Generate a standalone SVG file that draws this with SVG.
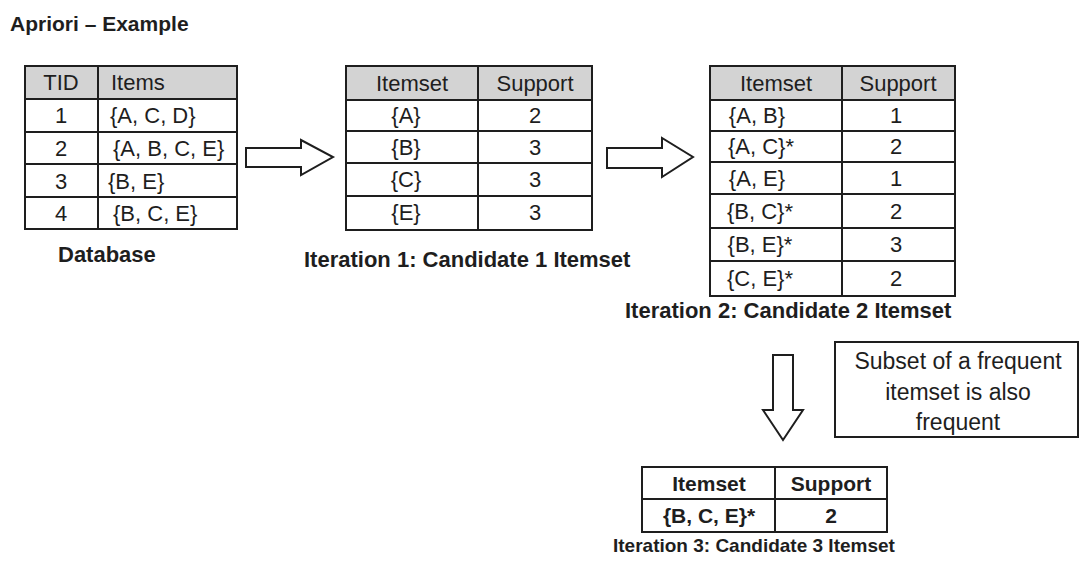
<svg xmlns="http://www.w3.org/2000/svg" width="1080" height="562" viewBox="0 0 1080 562">
<style>
text{font-family:"Liberation Sans",Arial,sans-serif;fill:#1e1e1e}
.t{font-size:22px}
.c{text-anchor:middle}
.b{font-weight:bold}
.cap{font-size:22px;font-weight:bold}
.hdr{fill:#d3d3d3;stroke:none}
.ln{stroke:#1e1e1e;stroke-width:2;fill:none}
.arr{fill:#fff;stroke:#1e1e1e;stroke-width:2;stroke-linejoin:miter}
</style>
<rect width="1080" height="562" fill="#fff"/>
<text x="10" y="31" class="b" style="font-size:21px">Apriori – Example</text>

<g id="database">
<rect class="hdr" x="25" y="66" width="212" height="33"/>
<rect class="ln" x="25" y="66" width="212" height="163"/>
<path class="ln" d="M98 66V229M25 99H237M25 132H237M25 164H237M25 197H237"/>
<text class="t c" x="61" y="90">TID</text>
<text class="t" x="111" y="90">Items</text>
<text class="t c" x="61" y="123">1</text>
<text class="t" x="110" y="123">{A, C, D}</text>
<text class="t c" x="61" y="156">2</text>
<text class="t" x="113" y="156">{A, B, C, E}</text>
<text class="t c" x="61" y="189">3</text>
<text class="t" x="108" y="189">{B, E}</text>
<text class="t c" x="61" y="221">4</text>
<text class="t" x="113" y="221">{B, C, E}</text>
<text class="cap" x="58" y="262">Database</text>
</g>

<g id="c1">
<rect class="hdr" x="346" y="66" width="246" height="34"/>
<rect class="ln" x="346" y="66" width="246" height="164"/>
<path class="ln" d="M478 66V230M346 100H592M346 131H592M346 163H592M346 196H592"/>
<text class="t c" x="412" y="91">Itemset</text>
<text class="t c" x="535" y="91">Support</text>
<text class="t c" x="406" y="123">{A}</text>
<text class="t c" x="535" y="123">2</text>
<text class="t c" x="406" y="155">{B}</text>
<text class="t c" x="535" y="155">3</text>
<text class="t c" x="406" y="187">{C}</text>
<text class="t c" x="535" y="187">3</text>
<text class="t c" x="406" y="220">{E}</text>
<text class="t c" x="535" y="220">3</text>
<text class="cap" x="304" y="267">Iteration 1: Candidate 1 Itemset</text>
</g>

<g id="c2">
<rect class="hdr" x="710" y="66" width="245" height="34"/>
<rect class="ln" x="710" y="66" width="245" height="230"/>
<path class="ln" d="M842 66V296M710 100H955M710 131H955M710 162H955M710 194H955M710 228H955M710 261H955"/>
<text class="t c" x="776" y="91">Itemset</text>
<text class="t c" x="898" y="91">Support</text>
<text class="t c" x="757" y="123">{A, B}</text>
<text class="t c" x="896" y="123">1</text>
<text class="t c" x="761" y="154">{A, C}*</text>
<text class="t c" x="896" y="154">2</text>
<text class="t c" x="757" y="186">{A, E}</text>
<text class="t c" x="896" y="186">1</text>
<text class="t c" x="760" y="219">{B, C}*</text>
<text class="t c" x="896" y="219">2</text>
<text class="t c" x="760" y="252">{B, E}*</text>
<text class="t c" x="896" y="252">3</text>
<text class="t c" x="760" y="286">{C, E}*</text>
<text class="t c" x="896" y="286">2</text>
<text class="cap" x="625" y="318">Iteration 2: Candidate 2 Itemset</text>
</g>

<g id="note">
<rect class="ln" x="835" y="342" width="243" height="95"/>
<text class="c" x="958" y="369" style="font-size:23px">Subset of a frequent</text>
<text class="c" x="958" y="400" style="font-size:23px">itemset is also</text>
<text class="c" x="958" y="430" style="font-size:23px">frequent</text>
</g>

<g id="c3">
<rect class="ln" x="642" y="467" width="245" height="65"/>
<path class="ln" d="M775 467V532M642 499H887"/>
<text class="b c" x="709" y="491" style="font-size:21px">Itemset</text>
<text class="b c" x="831" y="491" style="font-size:21px">Support</text>
<text class="b c" x="709" y="523" style="font-size:21px">{B, C, E}*</text>
<text class="b c" x="831" y="523" style="font-size:21px">2</text>
<text class="b" x="613" y="552" style="font-size:19px">Iteration 3: Candidate 3 Itemset</text>
</g>

<g id="connectors">
<polygon class="arr" points="246,148 301,148 301,140 333,157 301,175 301,167 246,167"/>
<polygon class="arr" points="607,148 662,148 662,138 693,157 662,177 662,168 607,168"/>
<polygon class="arr" points="773,355 793,355 793,410 803,410 783,440 763,410 773,410"/>
</g>
</svg>
